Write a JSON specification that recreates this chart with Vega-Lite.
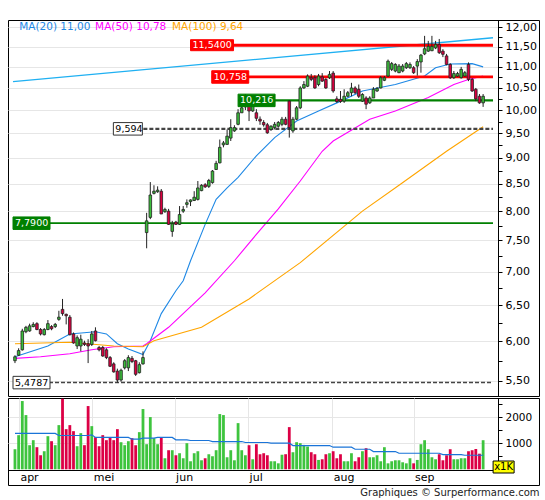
{
"$schema": "https://vega.github.io/schema/vega-lite/v6.json",
"background": "white",
"padding": {"left": 7, "top": 19, "right": 7, "bottom": 0},
"spacing": 0,
"config": {
  "font": "DejaVu Sans",
  "view": {"stroke": "#000", "strokeWidth": 1},
  "axis": {"labelFont": "DejaVu Sans", "labelColor": "#000", "tickColor": "#000", "domainColor": "#000", "gridColor": "#e6e6e6", "gridWidth": 1}
},
"title": {"text": "Graphiques © Surperformance.com", "orient": "bottom", "anchor": "end", "font": "DejaVu Sans", "fontSize": 10, "fontWeight": "normal", "color": "#222", "offset": 2},
"datasets": {
  "c": [
    {"i":0,"o":5.75,"h":5.82,"l":5.72,"c":5.80,"v":772,"vm":1378},
    {"i":1,"o":5.82,"h":5.91,"l":5.81,"c":5.88,"v":1313,"vm":1378},
    {"i":2,"o":5.89,"h":6.17,"l":5.88,"c":6.14,"v":2625,"vm":1378},
    {"i":3,"o":6.13,"h":6.21,"l":6.11,"c":6.19,"v":2085,"vm":1378},
    {"i":4,"o":6.14,"h":6.24,"l":6.13,"c":6.21,"v":927,"vm":1378},
    {"i":5,"o":6.20,"h":6.26,"l":6.19,"c":6.23,"v":1120,"vm":1378},
    {"i":6,"o":6.24,"h":6.26,"l":6.15,"c":6.16,"v":850,"vm":1378},
    {"i":7,"o":6.16,"h":6.18,"l":6.08,"c":6.10,"v":540,"vm":1378},
    {"i":8,"o":6.09,"h":6.18,"l":6.08,"c":6.16,"v":695,"vm":1378},
    {"i":9,"o":6.16,"h":6.29,"l":6.15,"c":6.24,"v":1274,"vm":1378},
    {"i":10,"o":6.20,"h":6.22,"l":6.15,"c":6.17,"v":1081,"vm":1378},
    {"i":11,"o":6.20,"h":6.25,"l":6.18,"c":6.23,"v":927,"vm":1378},
    {"i":12,"o":6.30,"h":6.42,"l":6.28,"c":6.33,"v":1699,"vm":1300},
    {"i":13,"o":6.44,"h":6.59,"l":6.35,"c":6.38,"v":2715,"vm":1300},
    {"i":14,"o":6.37,"h":6.38,"l":6.23,"c":6.35,"v":1544,"vm":1300},
    {"i":15,"o":6.33,"h":6.36,"l":6.08,"c":6.09,"v":1699,"vm":1300},
    {"i":16,"o":6.10,"h":6.12,"l":5.97,"c":5.98,"v":1467,"vm":1300},
    {"i":17,"o":5.94,"h":6.08,"l":5.90,"c":6.05,"v":888,"vm":1300},
    {"i":18,"o":5.94,"h":6.09,"l":5.87,"c":6.03,"v":1390,"vm":1300},
    {"i":19,"o":5.98,"h":6.01,"l":5.94,"c":5.96,"v":927,"vm":1300},
    {"i":20,"o":5.97,"h":6.03,"l":5.72,"c":5.94,"v":2432,"vm":1300},
    {"i":21,"o":5.96,"h":6.14,"l":5.94,"c":6.10,"v":1660,"vm":1325},
    {"i":22,"o":6.14,"h":6.19,"l":6.00,"c":6.01,"v":1236,"vm":1224},
    {"i":23,"o":5.92,"h":5.94,"l":5.87,"c":5.89,"v":888,"vm":1224},
    {"i":24,"o":5.92,"h":5.94,"l":5.80,"c":5.81,"v":1313,"vm":1224},
    {"i":25,"o":5.89,"h":5.91,"l":5.77,"c":5.79,"v":1120,"vm":1224},
    {"i":26,"o":5.79,"h":5.81,"l":5.67,"c":5.68,"v":1236,"vm":1224},
    {"i":27,"o":5.71,"h":5.73,"l":5.60,"c":5.61,"v":1120,"vm":1224},
    {"i":28,"o":5.62,"h":5.65,"l":5.4787,"c":5.51,"v":1544,"vm":1224},
    {"i":29,"o":5.51,"h":5.65,"l":5.49,"c":5.63,"v":1042,"vm":1224},
    {"i":30,"o":5.66,"h":5.77,"l":5.64,"c":5.75,"v":927,"vm":1224},
    {"i":31,"o":5.66,"h":5.82,"l":5.62,"c":5.79,"v":1081,"vm":1224},
    {"i":32,"o":5.78,"h":5.81,"l":5.72,"c":5.74,"v":1197,"vm":1158},
    {"i":33,"o":5.75,"h":5.76,"l":5.56,"c":5.58,"v":927,"vm":1158},
    {"i":34,"o":5.60,"h":5.73,"l":5.59,"c":5.70,"v":1429,"vm":1158},
    {"i":35,"o":5.71,"h":5.87,"l":5.70,"c":5.79,"v":2317,"vm":1197},
    {"i":36,"o":7.63,"h":7.97,"l":7.37,"c":7.83,"v":965,"vm":1197},
    {"i":37,"o":7.89,"h":8.53,"l":7.86,"c":8.29,"v":2008,"vm":1197},
    {"i":38,"o":8.32,"h":8.47,"l":8.30,"c":8.36,"v":1197,"vm":1197},
    {"i":39,"o":8.35,"h":8.45,"l":8.33,"c":8.38,"v":965,"vm":1224},
    {"i":40,"o":8.36,"h":8.40,"l":7.95,"c":7.95,"v":1236,"vm":1224},
    {"i":41,"o":7.99,"h":8.06,"l":7.97,"c":8.03,"v":425,"vm":1224},
    {"i":42,"o":8.00,"h":8.04,"l":7.76,"c":7.77,"v":734,"vm":1224},
    {"i":43,"o":7.65,"h":7.83,"l":7.56,"c":7.78,"v":734,"vm":1224},
    {"i":44,"o":7.81,"h":7.83,"l":7.76,"c":7.77,"v":540,"vm":1133},
    {"i":45,"o":7.77,"h":8.09,"l":7.76,"c":7.94,"v":618,"vm":1133},
    {"i":46,"o":8.00,"h":8.09,"l":7.97,"c":8.03,"v":425,"vm":1133},
    {"i":47,"o":8.12,"h":8.21,"l":8.06,"c":8.15,"v":1004,"vm":1133},
    {"i":48,"o":8.17,"h":8.21,"l":8.09,"c":8.20,"v":309,"vm":1107},
    {"i":49,"o":8.19,"h":8.36,"l":8.18,"c":8.25,"v":618,"vm":1107},
    {"i":50,"o":8.21,"h":8.55,"l":8.19,"c":8.42,"v":695,"vm":1107},
    {"i":51,"o":8.37,"h":8.49,"l":8.36,"c":8.47,"v":347,"vm":1107},
    {"i":52,"o":8.48,"h":8.51,"l":8.42,"c":8.44,"v":425,"vm":1107},
    {"i":53,"o":8.45,"h":8.59,"l":8.42,"c":8.56,"v":579,"vm":1107},
    {"i":54,"o":8.52,"h":8.76,"l":8.50,"c":8.74,"v":502,"vm":1068},
    {"i":55,"o":8.77,"h":8.94,"l":8.76,"c":8.89,"v":734,"vm":1068},
    {"i":56,"o":8.90,"h":9.37,"l":8.89,"c":9.21,"v":2124,"vm":1068},
    {"i":57,"o":9.26,"h":9.34,"l":9.21,"c":9.30,"v":2085,"vm":1068},
    {"i":58,"o":9.27,"h":9.58,"l":9.26,"c":9.44,"v":463,"vm":1068},
    {"i":59,"o":9.40,"h":9.80,"l":9.34,"c":9.62,"v":734,"vm":1068},
    {"i":60,"o":9.55,"h":9.67,"l":9.53,"c":9.62,"v":347,"vm":1068},
    {"i":61,"o":9.69,"h":10.02,"l":9.67,"c":9.94,"v":1776,"vm":1068},
    {"i":62,"o":9.94,"h":10.11,"l":9.94,"c":10.05,"v":734,"vm":1068},
    {"i":63,"o":10.07,"h":10.36,"l":10.00,"c":10.29,"v":540,"vm":1030},
    {"i":64,"o":10.14,"h":10.22,"l":9.76,"c":9.98,"v":927,"vm":1030},
    {"i":65,"o":9.98,"h":10.25,"l":9.96,"c":10.20,"v":386,"vm":1030},
    {"i":66,"o":9.94,"h":10.02,"l":9.76,"c":9.82,"v":965,"vm":1030},
    {"i":67,"o":9.80,"h":9.86,"l":9.68,"c":9.76,"v":579,"vm":1030},
    {"i":68,"o":9.73,"h":9.78,"l":9.64,"c":9.68,"v":618,"vm":1030},
    {"i":69,"o":9.68,"h":9.72,"l":9.49,"c":9.51,"v":540,"vm":1030},
    {"i":70,"o":9.58,"h":9.67,"l":9.55,"c":9.65,"v":309,"vm":1004},
    {"i":71,"o":9.62,"h":9.74,"l":9.58,"c":9.69,"v":309,"vm":1004},
    {"i":72,"o":9.65,"h":9.76,"l":9.62,"c":9.73,"v":230,"vm":1004},
    {"i":73,"o":9.69,"h":9.85,"l":9.65,"c":9.80,"v":560,"vm":1004},
    {"i":74,"o":9.80,"h":9.85,"l":9.67,"c":9.69,"v":580,"vm":1004},
    {"i":75,"o":10.20,"h":10.22,"l":9.41,"c":9.62,"v":1622,"vm":1004},
    {"i":76,"o":9.55,"h":9.85,"l":9.51,"c":9.80,"v":656,"vm":914},
    {"i":77,"o":9.80,"h":10.09,"l":9.78,"c":10.05,"v":1042,"vm":914},
    {"i":78,"o":10.05,"h":10.54,"l":10.02,"c":10.50,"v":1004,"vm":914},
    {"i":79,"o":10.50,"h":10.66,"l":10.48,"c":10.58,"v":938,"vm":914},
    {"i":80,"o":10.54,"h":10.82,"l":10.52,"c":10.78,"v":876,"vm":914},
    {"i":81,"o":10.74,"h":10.83,"l":10.66,"c":10.70,"v":657,"vm":914},
    {"i":82,"o":10.74,"h":10.80,"l":10.48,"c":10.50,"v":579,"vm":914},
    {"i":83,"o":10.58,"h":10.83,"l":10.54,"c":10.78,"v":360,"vm":914},
    {"i":84,"o":10.76,"h":10.85,"l":10.64,"c":10.66,"v":386,"vm":914},
    {"i":85,"o":10.70,"h":10.73,"l":10.48,"c":10.50,"v":579,"vm":914},
    {"i":86,"o":10.74,"h":10.90,"l":10.71,"c":10.82,"v":618,"vm":914},
    {"i":87,"o":10.85,"h":10.90,"l":10.39,"c":10.43,"v":695,"vm":849},
    {"i":88,"o":10.25,"h":10.31,"l":10.16,"c":10.19,"v":425,"vm":849},
    {"i":89,"o":10.24,"h":10.43,"l":10.16,"c":10.19,"v":579,"vm":849},
    {"i":90,"o":10.20,"h":10.47,"l":10.16,"c":10.31,"v":309,"vm":849},
    {"i":91,"o":10.31,"h":10.43,"l":10.29,"c":10.39,"v":309,"vm":849},
    {"i":92,"o":10.39,"h":10.62,"l":10.31,"c":10.50,"v":618,"vm":849},
    {"i":93,"o":10.50,"h":10.54,"l":10.36,"c":10.39,"v":309,"vm":772},
    {"i":94,"o":10.47,"h":10.58,"l":10.27,"c":10.31,"v":463,"vm":772},
    {"i":95,"o":10.20,"h":10.38,"l":10.18,"c":10.35,"v":695,"vm":772},
    {"i":96,"o":10.27,"h":10.31,"l":10.02,"c":10.13,"v":811,"vm":772},
    {"i":97,"o":10.16,"h":10.31,"l":10.14,"c":10.27,"v":463,"vm":772},
    {"i":98,"o":10.27,"h":10.52,"l":10.27,"c":10.47,"v":463,"vm":683},
    {"i":99,"o":10.43,"h":10.52,"l":10.41,"c":10.49,"v":540,"vm":683},
    {"i":100,"o":10.50,"h":10.78,"l":10.49,"c":10.74,"v":309,"vm":683},
    {"i":101,"o":10.68,"h":10.78,"l":10.66,"c":10.74,"v":850,"vm":683},
    {"i":102,"o":10.78,"h":11.18,"l":10.76,"c":11.14,"v":230,"vm":683},
    {"i":103,"o":10.94,"h":11.12,"l":10.90,"c":11.08,"v":309,"vm":683},
    {"i":104,"o":10.90,"h":11.09,"l":10.87,"c":11.06,"v":347,"vm":683},
    {"i":105,"o":10.86,"h":11.07,"l":10.85,"c":11.02,"v":347,"vm":618},
    {"i":106,"o":10.90,"h":11.07,"l":10.87,"c":11.02,"v":270,"vm":618},
    {"i":107,"o":10.98,"h":11.12,"l":10.95,"c":11.08,"v":230,"vm":618},
    {"i":108,"o":10.98,"h":11.11,"l":10.95,"c":11.06,"v":425,"vm":618},
    {"i":109,"o":10.98,"h":11.02,"l":10.83,"c":10.86,"v":230,"vm":618},
    {"i":110,"o":11.02,"h":11.19,"l":10.79,"c":11.13,"v":360,"vm":618},
    {"i":111,"o":11.12,"h":11.32,"l":10.86,"c":11.29,"v":965,"vm":618},
    {"i":112,"o":11.32,"h":11.78,"l":11.29,"c":11.45,"v":1119,"vm":618},
    {"i":113,"o":11.39,"h":11.65,"l":11.37,"c":11.51,"v":772,"vm":618},
    {"i":114,"o":11.40,"h":11.78,"l":11.39,"c":11.51,"v":463,"vm":618},
    {"i":115,"o":11.47,"h":11.65,"l":11.44,"c":11.56,"v":386,"vm":618},
    {"i":116,"o":11.56,"h":11.70,"l":11.32,"c":11.35,"v":579,"vm":618},
    {"i":117,"o":11.39,"h":11.44,"l":11.24,"c":11.31,"v":347,"vm":566},
    {"i":118,"o":11.27,"h":11.32,"l":11.04,"c":11.06,"v":540,"vm":566},
    {"i":119,"o":11.06,"h":11.09,"l":10.71,"c":10.74,"v":772,"vm":566},
    {"i":120,"o":10.74,"h":10.90,"l":10.71,"c":10.84,"v":386,"vm":566},
    {"i":121,"o":10.78,"h":10.88,"l":10.76,"c":10.84,"v":386,"vm":566},
    {"i":122,"o":10.74,"h":11.00,"l":10.72,"c":10.94,"v":425,"vm":566},
    {"i":123,"o":10.78,"h":10.90,"l":10.76,"c":10.86,"v":425,"vm":540},
    {"i":124,"o":11.06,"h":11.11,"l":10.66,"c":10.70,"v":695,"vm":540},
    {"i":125,"o":10.70,"h":10.73,"l":10.41,"c":10.43,"v":734,"vm":540},
    {"i":126,"o":10.47,"h":10.50,"l":10.20,"c":10.25,"v":780,"vm":540},
    {"i":127,"o":10.31,"h":10.36,"l":10.14,"c":10.16,"v":600,"vm":540},
    {"i":128,"o":10.16,"h":10.36,"l":10.07,"c":10.31,"v":1119,"vm":540}
  ],
  "ma": [
    {"s":"MA20","i":0,"v":5.80},{"s":"MA20","i":9,"v":5.94},{"s":"MA20","i":15,"v":6.10},{"s":"MA20","i":22,"v":6.13},{"s":"MA20","i":25,"v":6.10},{"s":"MA20","i":28,"v":5.97},{"s":"MA20","i":31,"v":5.90},{"s":"MA20","i":35,"v":5.83},{"s":"MA20","i":37,"v":6.01},{"s":"MA20","i":40,"v":6.38},{"s":"MA20","i":44,"v":6.71},{"s":"MA20","i":46,"v":6.86},{"s":"MA20","i":48,"v":7.17},{"s":"MA20","i":52,"v":7.77},{"s":"MA20","i":55,"v":8.21},{"s":"MA20","i":58,"v":8.42},{"s":"MA20","i":61,"v":8.62},{"s":"MA20","i":66,"v":9.04},{"s":"MA20","i":71,"v":9.41},{"s":"MA20","i":77,"v":9.76},{"s":"MA20","i":83,"v":9.98},{"s":"MA20","i":88,"v":10.16},{"s":"MA20","i":95,"v":10.43},{"s":"MA20","i":104,"v":10.58},{"s":"MA20","i":112,"v":10.78},{"s":"MA20","i":115,"v":10.98},{"s":"MA20","i":119,"v":11.07},{"s":"MA20","i":125,"v":11.08},{"s":"MA20","i":128,"v":11.00},
    {"s":"MA50","i":0,"v":5.78},{"s":"MA50","i":7,"v":5.80},{"s":"MA50","i":15,"v":5.84},{"s":"MA50","i":21,"v":5.89},{"s":"MA50","i":27,"v":5.93},{"s":"MA50","i":35,"v":5.94},{"s":"MA50","i":36,"v":5.97},{"s":"MA50","i":42,"v":6.19},{"s":"MA50","i":52,"v":6.68},{"s":"MA50","i":60,"v":7.17},{"s":"MA50","i":66,"v":7.60},{"s":"MA50","i":72,"v":8.04},{"s":"MA50","i":78,"v":8.55},{"s":"MA50","i":84,"v":9.13},{"s":"MA50","i":87,"v":9.34},{"s":"MA50","i":97,"v":9.80},{"s":"MA50","i":104,"v":9.98},{"s":"MA50","i":113,"v":10.28},{"s":"MA50","i":120,"v":10.58},{"s":"MA50","i":124,"v":10.70},{"s":"MA50","i":128,"v":10.78},
    {"s":"MA100","i":0,"v":5.97},{"s":"MA100","i":15,"v":5.99},{"s":"MA100","i":27,"v":5.94},{"s":"MA100","i":35,"v":5.93},{"s":"MA100","i":38,"v":6.01},{"s":"MA100","i":51,"v":6.19},{"s":"MA100","i":64,"v":6.59},{"s":"MA100","i":78,"v":7.14},{"s":"MA100","i":95,"v":8.00},{"s":"MA100","i":105,"v":8.47},{"s":"MA100","i":118,"v":9.13},{"s":"MA100","i":128,"v":9.64}
  ],
  "tr": [{"i":-0.54,"v":10.649},{"i":130.7,"v":11.731}],
  "lv": [
    {"k":"r1","v":11.54,"s":48.0,"t":"11,5400"},
    {"k":"r2","v":10.758,"s":53.8,"t":"10,758"},
    {"k":"g1","v":10.216,"s":61.0,"t":"10,216"},
    {"k":"d1","v":9.594,"s":26.9,"t":"9,594"},
    {"k":"g2","v":7.79,"s":-0.54,"t":"7,7900"},
    {"k":"d2","v":5.4787,"s":-0.54,"t":"5,4787"}
  ]
},
"vconcat": [
  {
    "width": 531,
    "height": 376,
    "resolve": {"axis": {"y": "independent"}, "scale": {"color": "independent"}},
    "layer": [
      {
        "data": {"name": "tr"},
        "mark": {"type": "line", "color": "#1fb0f2", "strokeWidth": 1.4},
        "encoding": {
          "x": {"field": "i", "type": "quantitative", "scale": {"domain": [-0.54, 130.7], "range": [0, 490], "nice": false, "zero": false},
                "axis": {"values": [1.07, 21.15, 43.65, 63.74, 86.77, 108.99], "grid": true, "labels": false, "ticks": false, "domain": false, "title": null, "minExtent": 0, "maxExtent": 0}},
          "y": {"field": "v", "type": "quantitative", "scale": {"type": "log", "domain": [5.319, 12.2], "nice": false, "zero": false},
                "axis": {"orient": "left", "values": [5.5,6,6.5,7,7.5,8,8.5,9,9.5,10,10.5,11,11.5,12], "grid": true, "labels": false, "ticks": false, "domain": false, "title": null, "minExtent": 0, "maxExtent": 0}}
        }
      },
      {
        "data": {"name": "ma"},
        "mark": {"type": "line", "strokeWidth": 1.1},
        "encoding": {
          "x": {"field": "i", "type": "quantitative", "axis": null},
          "y": {"field": "v", "type": "quantitative", "axis": null},
          "color": {"field": "s", "type": "nominal", "scale": {"domain": ["MA20", "MA50", "MA100"], "range": ["#1e88e5", "#ff00ff", "#ffa500"]}, "legend": null}
        }
      },
      {
        "data": {"name": "lv"},
        "mark": {"type": "rule"},
        "encoding": {
          "x": {"field": "s", "type": "quantitative", "axis": null},
          "x2": {"datum": 130.7},
          "y": {"field": "v", "type": "quantitative", "axis": null},
          "color": {"field": "k", "type": "nominal", "scale": {"domain": ["r1","r2","g1","d1","g2","d2"], "range": ["#ff0000","#ff0000","#008000","#444444","#008000","#444444"]}, "legend": null},
          "strokeWidth": {"field": "k", "type": "nominal", "scale": {"domain": ["r1","r2","g1","d1","g2","d2"], "range": [3, 1.5, 1.5, 1, 2.5, 1]}, "legend": null},
          "strokeDash": {"field": "k", "type": "nominal", "scale": {"domain": ["r1","r2","g1","d1","g2","d2"], "range": [[1,0],[1,0],[1,0],[4,2],[1,0],[4,2]]}, "legend": null}
        }
      },
      {
        "data": {"name": "c"},
        "mark": {"type": "rule", "color": "#222", "strokeWidth": 1},
        "encoding": {
          "x": {"field": "i", "type": "quantitative", "axis": null},
          "y": {"field": "l", "type": "quantitative", "axis": null},
          "y2": {"field": "h"}
        }
      },
      {
        "data": {"name": "c"},
        "mark": {"type": "bar", "width": 2.6, "stroke": "#222", "strokeWidth": 0.8},
        "encoding": {
          "x": {"field": "i", "type": "quantitative", "axis": null},
          "y": {"field": "o", "type": "quantitative",
                "axis": {"orient": "right", "offset": -41, "values": [5.5,5.75,6,6.25,6.5,6.75,7,7.25,7.5,7.75,8,8.25,8.5,8.75,9,9.25,9.5,9.75,10,10.25,10.5,10.75,11,11.25,11.5,11.75,12],
                         "labelExpr": "(datum.value*4) % 2 == 0 ? replace(format(datum.value, '.2f'), '.', ',') : ''",
                         "grid": false, "tickSize": 4, "labelPadding": 3, "labelFontSize": 11, "domain": true, "title": null}},
          "y2": {"field": "c"},
          "fill": {"condition": {"test": "datum.c >= datum.o", "value": "#3bbd3b"}, "value": "#d9003f"}
        }
      },
      {
        "data": {"name": "lv"},
        "transform": [{"filter": "datum.k == 'r1'"}],
        "mark": {"type": "tick", "orient": "horizontal", "size": 43, "thickness": 11, "xOffset": 21.5, "opacity": 1, "strokeWidth": 1},
        "encoding": {
          "x": {"field": "s", "type": "quantitative", "axis": null},
          "y": {"field": "v", "type": "quantitative", "axis": null},
          "fill": {"field": "k", "type": "nominal", "scale": {"domain": ["r1","r2","g1","d1","g2","d2"], "range": ["#ff0000","#ff0000","#008000","#ffffff","#008000","#ffffff"]}, "legend": null},
          "stroke": {"field": "k", "type": "nominal", "scale": {"domain": ["r1","r2","g1","d1","g2","d2"], "range": ["#ff0000","#ff0000","#008000","#333333","#008000","#333333"]}, "legend": null}
        }
      },
      {
        "data": {"name": "lv"},
        "transform": [{"filter": "datum.k == 'r2' || datum.k == 'g1' || datum.k == 'g2' || datum.k == 'd2'"}],
        "mark": {"type": "tick", "orient": "horizontal", "size": 37, "thickness": 12.5, "xOffset": 18.5, "opacity": 1, "strokeWidth": 1},
        "encoding": {
          "x": {"field": "s", "type": "quantitative", "axis": null},
          "y": {"field": "v", "type": "quantitative", "axis": null},
          "fill": {"field": "k", "type": "nominal", "scale": {"domain": ["r1","r2","g1","d1","g2","d2"], "range": ["#ff0000","#ff0000","#008000","#ffffff","#008000","#ffffff"]}, "legend": null},
          "stroke": {"field": "k", "type": "nominal", "scale": {"domain": ["r1","r2","g1","d1","g2","d2"], "range": ["#ff0000","#ff0000","#008000","#333333","#008000","#333333"]}, "legend": null}
        }
      },
      {
        "data": {"name": "lv"},
        "transform": [{"filter": "datum.k == 'd1'"}],
        "mark": {"type": "tick", "orient": "horizontal", "size": 29, "thickness": 12.5, "xOffset": 14.5, "opacity": 1, "strokeWidth": 1},
        "encoding": {
          "x": {"field": "s", "type": "quantitative", "axis": null},
          "y": {"field": "v", "type": "quantitative", "axis": null},
          "fill": {"field": "k", "type": "nominal", "scale": {"domain": ["r1","r2","g1","d1","g2","d2"], "range": ["#ff0000","#ff0000","#008000","#ffffff","#008000","#ffffff"]}, "legend": null},
          "stroke": {"field": "k", "type": "nominal", "scale": {"domain": ["r1","r2","g1","d1","g2","d2"], "range": ["#ff0000","#ff0000","#008000","#333333","#008000","#333333"]}, "legend": null}
        }
      },
      {
        "data": {"name": "lv"},
        "mark": {"type": "text", "align": "left", "baseline": "middle", "dx": 2, "fontSize": 9.5},
        "encoding": {
          "x": {"field": "s", "type": "quantitative", "axis": null},
          "y": {"field": "v", "type": "quantitative", "axis": null},
          "text": {"field": "t"},
          "color": {"condition": {"test": "datum.k == 'd1' || datum.k == 'd2'", "value": "#000000"}, "value": "#ffffff"}
        }
      },
      {
        "data": {"values": [{"t": "MA(20) 11,00"}]},
        "mark": {"type": "text", "align": "left", "baseline": "middle", "fontSize": 10.5, "color": "#1e88e5"},
        "encoding": {"x": {"datum": 1.15, "type": "quantitative", "axis": null}, "y": {"datum": 12.01, "type": "quantitative", "axis": null}, "text": {"field": "t"}}
      },
      {
        "data": {"values": [{"t": "MA(50) 10,78"}]},
        "mark": {"type": "text", "align": "left", "baseline": "middle", "fontSize": 10.5, "color": "#ff00ff"},
        "encoding": {"x": {"datum": 21.9, "type": "quantitative", "axis": null}, "y": {"datum": 12.01, "type": "quantitative", "axis": null}, "text": {"field": "t"}}
      },
      {
        "data": {"values": [{"t": "MA(100) 9,64"}]},
        "mark": {"type": "text", "align": "left", "baseline": "middle", "fontSize": 10.5, "color": "#ffa500"},
        "encoding": {"x": {"datum": 42.95, "type": "quantitative", "axis": null}, "y": {"datum": 12.01, "type": "quantitative", "axis": null}, "text": {"field": "t"}}
      }
    ]
  },
  {
    "width": 531,
    "height": 87,
    "resolve": {"axis": {"x": "independent", "y": "independent"}},
    "layer": [
      {
        "data": {"name": "c"},
        "mark": {"type": "bar", "width": 2.8},
        "encoding": {
          "x": {"field": "i", "type": "quantitative", "scale": {"domain": [-0.54, 130.7], "range": [0, 490], "nice": false, "zero": false},
                "axis": {"orient": "top", "values": [1.07, 21.15, 43.65, 63.74, 86.77, 108.99], "grid": true, "labels": false, "ticks": false, "domain": false, "title": null, "minExtent": 0, "maxExtent": 0}},
          "y": {"field": "v", "type": "quantitative", "scale": {"domain": [0, 2742], "range": [71.3, 0], "nice": false, "zero": false},
                "axis": {"orient": "left", "values": [1000, 2000], "grid": true, "labels": false, "ticks": false, "domain": false, "title": null, "minExtent": 0, "maxExtent": 0}},
          "y2": {"datum": 0},
          "color": {"condition": {"test": "datum.c >= datum.o", "value": "#3ec43e"}, "value": "#dc0045"}
        }
      },
      {
        "data": {"name": "c"},
        "mark": {"type": "line", "color": "#1a74d8", "strokeWidth": 1.2},
        "encoding": {
          "x": {"field": "i", "type": "quantitative",
                "axis": {"orient": "bottom", "offset": -15, "values": [1.07, 21.15, 43.65, 63.74, 86.77, 108.99],
                         "labelExpr": "datum.value < 10 ? 'apr' : datum.value < 30 ? 'mei' : datum.value < 50 ? 'jun' : datum.value < 70 ? 'jul' : datum.value < 95 ? 'aug' : 'sep'",
                         "labelAlign": "left", "labelBaseline": "middle", "labelOffset": 1, "labelPadding": 7, "labelFontSize": 11, "ticks": false, "domain": true, "grid": false, "title": null}},
          "y": {"field": "vm", "type": "quantitative",
                "axis": {"orient": "right", "offset": -41, "values": [500, 1000, 1500, 2000, 2500], "labelExpr": "datum.value % 1000 == 0 ? format(datum.value, 'd') : ''", "grid": false, "tickSize": 4, "labelPadding": 3, "labelFontSize": 10.5, "domain": true, "title": null}}
        }
      },
      {
        "data": {"values": [{"t": "x1K"}]},
        "mark": {"type": "tick", "orient": "horizontal", "size": 21, "thickness": 12, "opacity": 1, "fill": "#ffff00", "stroke": "#000", "strokeWidth": 1},
        "encoding": {"x": {"datum": 133.6, "type": "quantitative", "axis": null}, "y": {"datum": 88, "type": "quantitative", "axis": null}}
      },
      {
        "data": {"values": [{"t": "x1K"}]},
        "mark": {"type": "text", "align": "center", "baseline": "middle", "fontSize": 10, "color": "#000"},
        "encoding": {"x": {"datum": 133.6, "type": "quantitative", "axis": null}, "y": {"datum": 88, "type": "quantitative", "axis": null}, "text": {"field": "t"}}
      }
    ]
  }
]
}
